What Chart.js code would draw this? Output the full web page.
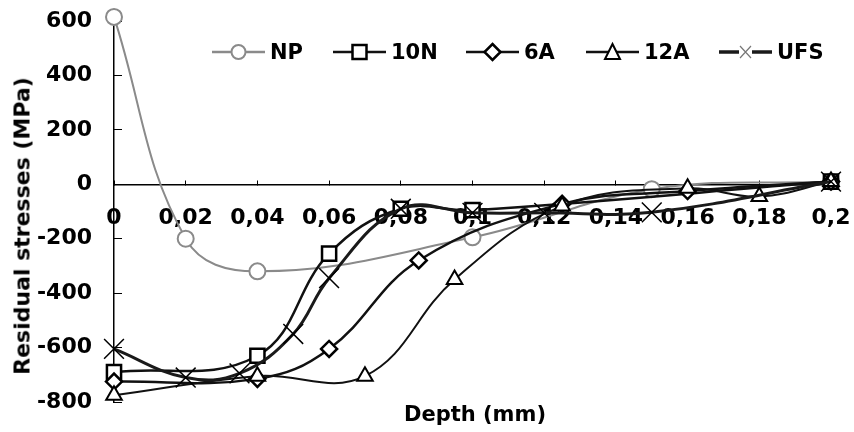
<!DOCTYPE html>
<html>
<head>
<meta charset="utf-8">
<script src="https://cdn.jsdelivr.net/npm/chart.js@4.4.1/dist/chart.umd.min.js"></script>
<style>
  html, body { margin: 0; padding: 0; background: #fff; }
  #wrap { position: relative; width: 854px; height: 432px; font-family: 'DejaVu Sans', sans-serif; font-weight: bold; color: #000; }
  #chart { position: absolute; left: 0; top: 0; }
  .ytitle { position: absolute; left: 22px; top: 226px; transform: translate(-50%, -50%) rotate(-90deg); font-size: 22px; white-space: nowrap; }
  .xtitle { position: absolute; left: 475px; top: 414px; transform: translate(-50%, -50%); font-size: 21px; white-space: nowrap; }
  .leg { position: absolute; top: 52px; transform: translateY(-50%); display: flex; align-items: center; font-size: 21px; white-space: nowrap; }
  .leg svg { margin-right: 5px; }
</style>
</head>
<body>
<div id="wrap">
  <canvas id="chart" width="854" height="432"></canvas>
  <div class="ytitle">Residual stresses (MPa)</div>
  <div class="xtitle">Depth (mm)</div>
  <div id="legend"></div>
</div>
<script>
'use strict';

/* ── Data (depth in mm, stress in MPa) ───── */
const NP_DEPTH   = [0, 0.02, 0.04, 0.1, 0.15, 0.2];
const NP_STRESS  = [615, -200, -320, -195, -18, 10];

const N10_DEPTH  = [0, 0.04, 0.06, 0.08, 0.1, 0.2];
const N10_STRESS = [-690, -630, -255, -90, -95, 10];

const A6_DEPTH   = [0, 0.04, 0.06, 0.085, 0.125, 0.16, 0.2];
const A6_STRESS  = [-725, -715, -605, -280, -72, -25, 10];

const A12_DEPTH  = [0, 0.04, 0.07, 0.095, 0.125, 0.16, 0.18, 0.2];
const A12_STRESS = [-775, -705, -705, -350, -80, -15, -45, 10];

const UFS_DEPTH  = [0, 0.02, 0.035, 0.05, 0.06, 0.08, 0.1, 0.12, 0.15, 0.2];
const UFS_STRESS = [-605, -710, -695, -550, -345, -90, -105, -105, -103, 10];

const SERIES_NAMES = ['NP', '10N', '6A', '12A', 'UFS'];
const X_TICKS = [0, 0.02, 0.04, 0.06, 0.08, 0.1, 0.12, 0.14, 0.16, 0.18, 0.2];
const Y_TICKS = [-800, -600, -400, -200, 0, 200, 400, 600];

/* ── Styles ───────────────────────────────── */
const FONT = { family: "'DejaVu Sans', sans-serif", weight: 'bold', size: 22 };
const STYLES = [
  { color: '#8a8a8a', lineW: 2,   point: 'circle',   r: 8,  pw: 2   },
  { color: '#111111', lineW: 2.5, point: 'rect',     r: 10, pw: 2.5 },
  { color: '#111111', lineW: 2.5, point: 'rectRot',  r: 8,  pw: 2.5 },
  { color: '#111111', lineW: 2,   point: 'triangle', r: 9,  pw: 2   },
  { color: '#1a1a1a', lineW: 3,   point: 'crossRot', r: 14, pw: 1.5 },
];

function pts(xs, ys) { return xs.map((x, i) => ({ x, y: ys[i] })); }
function fmtDepth(v) {
  const r = Math.round(v * 100) / 100;
  return r === 0 ? '0' : String(r).replace('.', ',');
}
// tick padding is added to the scale's own padding; drop it so the plot keeps its size
function noScalePadding(s) {
  s.paddingTop = 0; s.paddingBottom = 0; s.paddingLeft = 0; s.paddingRight = 0;
}

const SERIES_DATA = [
  pts(NP_DEPTH, NP_STRESS),
  pts(N10_DEPTH, N10_STRESS),
  pts(A6_DEPTH, A6_STRESS),
  pts(A12_DEPTH, A12_STRESS),
  pts(UFS_DEPTH, UFS_STRESS),
];

const datasets = SERIES_NAMES.map((name, i) => ({
  label           : name,
  data            : SERIES_DATA[i],
  borderColor     : STYLES[i].color,
  borderWidth     : STYLES[i].lineW,
  backgroundColor : '#ffffff',
  pointStyle      : STYLES[i].point,
  pointRadius     : STYLES[i].r,
  pointBorderWidth: STYLES[i].pw,
  pointBorderColor: i === 0 ? '#8a8a8a' : '#000000',
  pointBackgroundColor: i === 4 ? 'rgba(0,0,0,0)' : '#ffffff',
  tension         : 0.4,
  clip            : false,
  order           : 5 - i,
}));

/* ── Chart ────────────────────────────────── */
new Chart(document.getElementById('chart').getContext('2d'), {
  type: 'line',
  data: { datasets },
  options: {
    responsive: false,
    animation : false,
    layout    : { padding: { left: 0, top: 21, right: 23, bottom: 30 } },
    plugins   : { legend: { display: false }, tooltip: { enabled: false } },
    scales: {
      x: {
        type: 'linear', min: 0, max: 0.2,
        position: { y: 0 },
        afterBuildTicks: s => { s.ticks = X_TICKS.map(v => ({ value: v })); },
        afterFit: s => { noScalePadding(s); },
        ticks: { color: '#000', font: FONT, padding: 26, autoSkip: false, maxRotation: 0, callback: fmtDepth },
        grid : { display: true, drawOnChartArea: false, drawTicks: true, tickLength: -5, tickColor: '#000', tickWidth: 1 },
        border: { display: true, color: '#000', width: 1.5 },
      },
      y: {
        type: 'linear', min: -800, max: 600,
        afterBuildTicks: s => { s.ticks = Y_TICKS.map(v => ({ value: v })); },
        afterFit: s => { s.width = 114; noScalePadding(s); },
        ticks: { color: '#000', font: FONT, padding: 30 },
        grid : { display: true, drawOnChartArea: false, drawTicks: true, tickLength: -8, tickColor: '#000', tickWidth: 1 },
        border: { display: true, color: '#000', width: 1.5 },
      },
    },
  },
});

/* ── Legend (HTML) ────────────────────────── */
const LEGEND_LEFT = [212, 333, 466, 586, 719];

function symbolSvg(st, i) {
  const c = i === 0 ? '#8a8a8a' : '#000';
  const line = `<line x1="0" y1="12" x2="53" y2="12" stroke="${st.color}" stroke-width="${i === 4 ? 3.5 : 2.5}"/>`;
  let mark = '';
  if (st.point === 'circle')   mark = `<circle cx="26.5" cy="12" r="7" fill="#fff" stroke="${c}" stroke-width="2"/>`;
  if (st.point === 'rect')     mark = `<rect x="19.5" y="5" width="14" height="14" fill="#fff" stroke="${c}" stroke-width="2.5"/>`;
  if (st.point === 'rectRot')  mark = `<polygon points="26.5,4 34.5,12 26.5,20 18.5,12" fill="#fff" stroke="${c}" stroke-width="2.5"/>`;
  if (st.point === 'triangle') mark = `<polygon points="26.5,4 34,19 19,19" fill="#fff" stroke="${c}" stroke-width="2"/>`;
  if (st.point === 'crossRot') mark = `<rect x="20" y="5" width="13" height="14" fill="#fff"/><path d="M21 6 L32 18 M32 6 L21 18" stroke="#777" stroke-width="1.2"/>`;
  return `<svg width="53" height="24" viewBox="0 0 53 24">${line}${mark}</svg>`;
}

document.getElementById('legend').innerHTML = SERIES_NAMES.map((name, i) =>
  `<div class="leg" style="left:${LEGEND_LEFT[i]}px">${symbolSvg(STYLES[i], i)}<span>${name}</span></div>`
).join('');
</script>
</body>
</html>
